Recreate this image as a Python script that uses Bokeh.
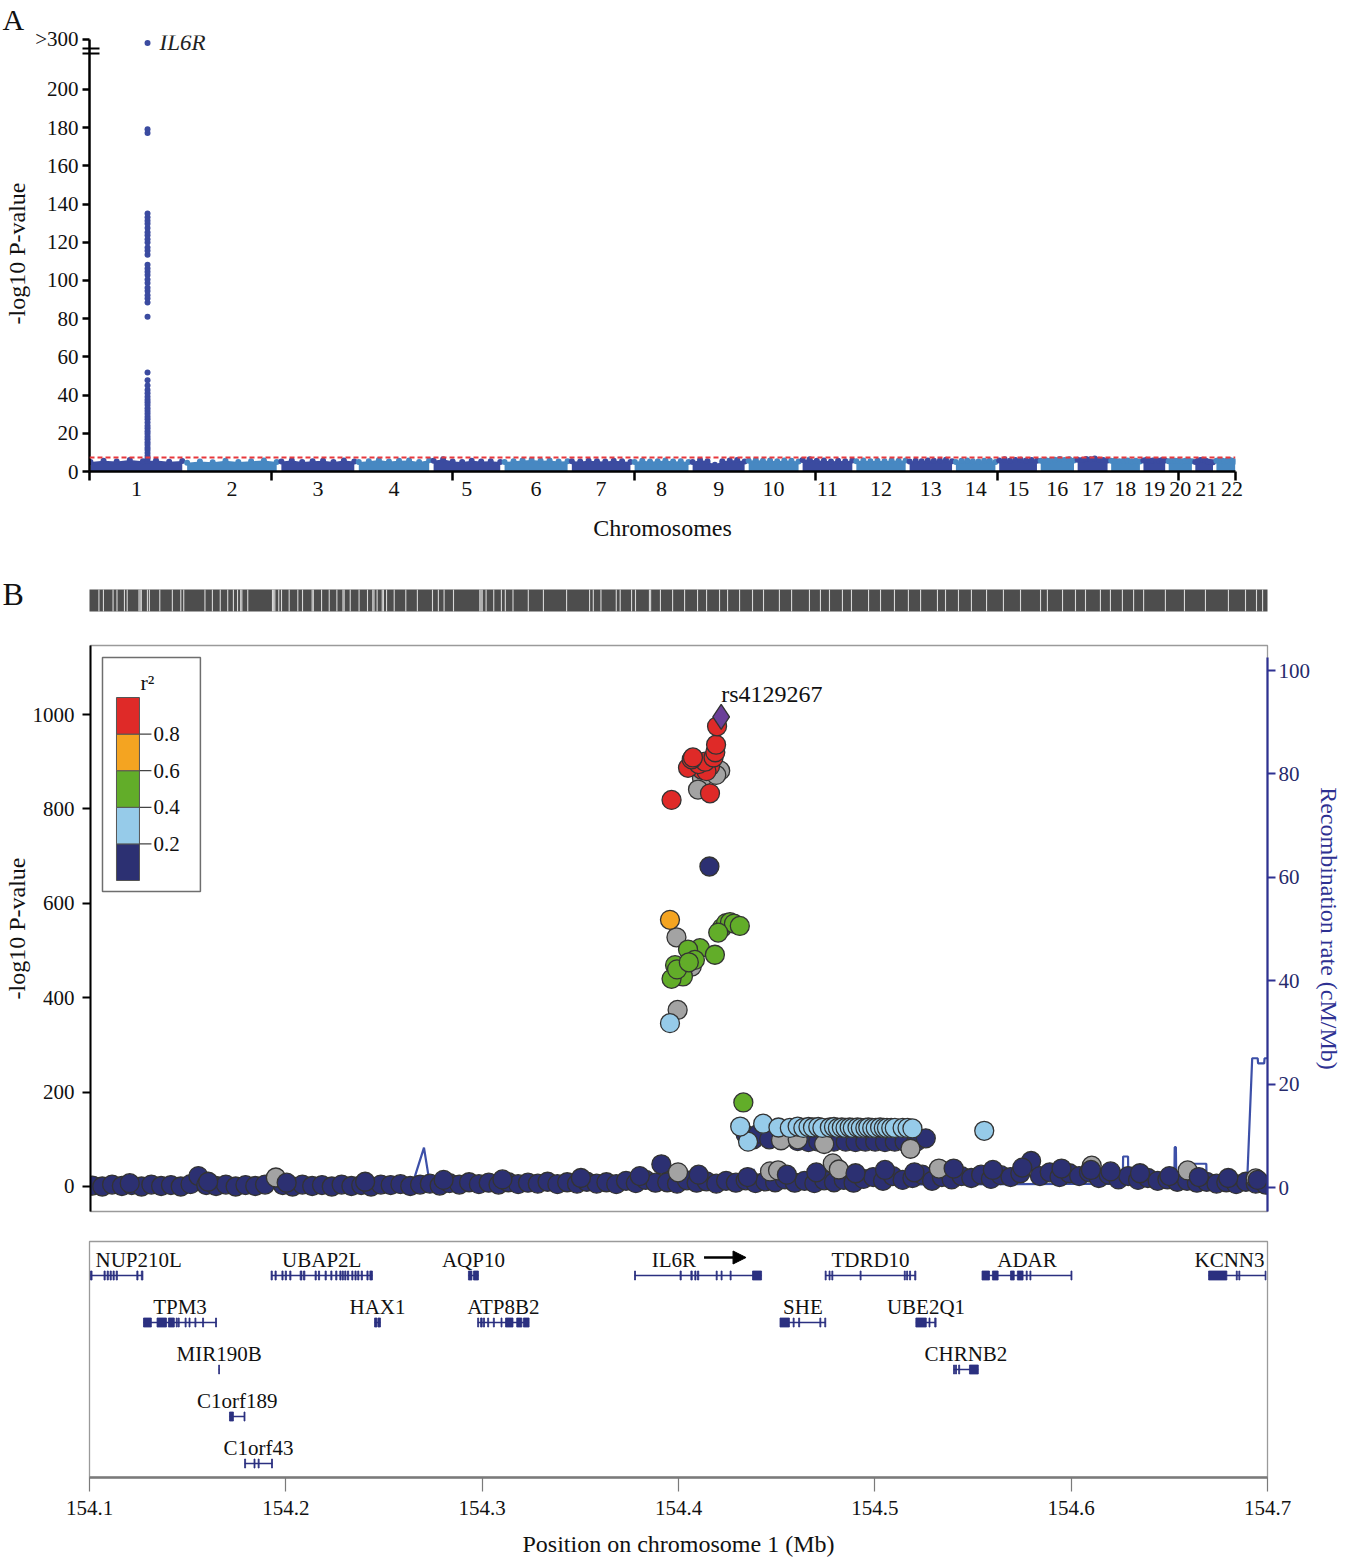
import math
from bokeh.plotting import figure
from bokeh.layouts import column
from bokeh.models import (Range1d, LinearAxis, FixedTicker, Label, Span, Arrow,
                          NormalHead, NumeralTickFormatter)
from bokeh.core.properties import value
from bokeh.embed import file_html
from bokeh.resources import INLINE

FONT = "Liberation Serif"

# ======================= DATA : panel A (genome-wide) =======================
chrom_labels = [str(i) for i in range(1, 23)]
chrom_length_mb = [249.3, 243.2, 198.0, 191.2, 180.9, 171.1, 159.1, 146.4, 141.2, 135.5, 135.0,
                   133.9, 115.2, 107.3, 102.5, 90.4, 81.2, 78.1, 59.1, 63.0, 48.1, 51.3]
chrom_gap_mb = 8.0
chrom_axis_tick_interval = 483.0
# upper envelope of the background -log10 P cloud, 8 readings along each chromosome
chrom_band_top = [
    [5.0, 5.6, 5.2, 6.0, 5.4, 5.8, 5.1, 5.5], [4.6, 5.2, 4.8, 5.6, 5.0, 5.4, 5.8, 5.0],
    [5.2, 5.8, 5.0, 5.4, 5.6, 5.0, 5.8, 5.2], [5.0, 5.4, 6.0, 5.2, 5.6, 5.8, 5.0, 5.9],
    [5.6, 6.4, 5.2, 5.0, 5.6, 5.2, 5.4, 5.0], [5.0, 5.4, 5.8, 6.0, 5.6, 5.8, 5.2, 5.4],
    [5.4, 5.2, 5.6, 5.4, 5.2, 5.6, 5.4, 5.0], [5.0, 5.6, 5.2, 5.4, 5.8, 5.2, 5.4, 5.0],
    [5.0, 6.0, 5.4, 3.5, 5.4, 5.8, 6.0, 5.2], [5.6, 6.0, 5.6, 5.8, 5.4, 5.8, 5.6, 5.2],
    [6.0, 6.4, 5.6, 5.8, 5.2, 5.6, 5.4, 5.8], [5.4, 5.8, 5.4, 5.6, 5.4, 5.8, 5.6, 5.8],
    [5.2, 5.6, 5.4, 5.8, 5.6, 5.8, 6.2, 5.4], [5.0, 5.6, 5.8, 5.4, 5.2, 5.6, 5.8, 5.0],
    [5.8, 6.4, 5.6, 6.0, 6.2, 5.8, 6.0, 5.6], [5.6, 6.0, 5.8, 6.2, 6.6, 6.0, 6.4, 5.8],
    [6.2, 6.0, 6.6, 6.4, 6.8, 6.2, 6.0, 5.8], [5.6, 5.8, 5.4, 5.6, 5.8, 5.4, 5.6, 5.2],
    [5.8, 6.2, 5.6, 5.8, 6.0, 5.6, 6.0, 5.8], [5.4, 5.8, 5.6, 5.8, 5.4, 5.6, 5.8, 5.4],
    [5.0, 5.6, 6.0, 6.2, 5.8, 5.2, 5.0, 4.8], [5.6, 6.0, 5.8, 5.4, 5.8, 6.0, 5.6, 5.2],
]
peak_chrom = "1"
peak_position_mb = 154.4
peak_gene = "IL6R"
peak_logp = [5.5, 6.8, 8.1, 9.7, 11.2, 12.4, 14.0, 15.3, 16.9, 18.2, 19.8, 21.1, 22.7, 24.0,
             25.6, 27.3, 28.7, 30.2, 31.6, 33.1, 34.8, 36.2, 37.5, 39.1, 40.9, 42.6, 45.0, 47.8,
             51.8, 81.0, 88.4, 90.6, 92.3, 94.5, 96.2, 98.7, 100.5, 102.9, 104.6, 106.3, 108.2,
             113.5, 115.6, 117.3, 119.8, 121.5, 123.6, 125.2, 127.4, 129.7, 131.3, 133.1, 135.0,
             177.2, 179.1, 320.0]
genome_wide_threshold = 7.3
a_y_ticks = [0, 20, 40, 60, 80, 100, 120, 140, 160, 180, 200]
a_break_label = ">300"

# ======================= DATA : panel B (regional) ==========================
region_start, region_end = 154.1, 154.7
b_y_ticks = [0, 200, 400, 600, 800, 1000]
rec_y_ticks = [0, 20, 40, 60, 80, 100]
region_x_ticks = [154.1, 154.2, 154.3, 154.4, 154.5, 154.6, 154.7]

# gaps in the SNP-density rug above the plot (Mb)
rug_gap_mb = [154.1048, 154.1071, 154.1120, 154.1140, 154.1178, 154.1192, 154.1252, 154.1258,
              154.1264, 154.1295, 154.1305, 154.1358, 154.1422, 154.1465, 154.1480, 154.1588,
              154.1626, 154.1666, 154.1704, 154.1733, 154.1754, 154.1770, 154.1776, 154.1806,
              154.1932, 154.1938, 154.1944, 154.1964, 154.1978, 154.2017, 154.2061, 154.2085,
              154.2134, 154.2140, 154.2182, 154.2221, 154.2260, 154.2291, 154.2297, 154.2328,
              154.2373, 154.2416, 154.2443, 154.2449, 154.2465, 154.2491, 154.2497, 154.2513,
              154.2552, 154.2611, 154.2670, 154.2747, 154.2777, 154.2806, 154.2854, 154.2988,
              154.2994, 154.3000, 154.3020, 154.3059, 154.3098, 154.3118, 154.3157, 154.3235,
              154.3312, 154.3430, 154.3547, 154.3566, 154.3605, 154.3683, 154.3703, 154.3761,
              154.3781, 154.3852, 154.3858, 154.3908, 154.3970, 154.4031, 154.4097, 154.4143,
              154.4209, 154.4250, 154.4311, 154.4377, 154.4433, 154.4514, 154.4576, 154.4667,
              154.4723, 154.4769, 154.4835, 154.4881, 154.4968, 154.5029, 154.5100, 154.5171,
              154.5233, 154.5319, 154.5360, 154.5426, 154.5492, 154.5569, 154.5655, 154.5742,
              154.5844, 154.5879, 154.5956, 154.6022, 154.6073, 154.6149, 154.6200, 154.6261,
              154.6318, 154.6369, 154.6480, 154.6577, 154.6684, 154.6801, 154.6888, 154.6944,
              154.6975]

# recombination rate (cM/Mb)
rec_pos = [154.100, 154.180, 154.2640, 154.2700, 154.2730, 154.3400, 154.4370, 154.4380,
           154.4390, 154.5200, 154.6000, 154.6262, 154.6264, 154.6289, 154.6291, 154.6525,
           154.6527, 154.6533, 154.6535, 154.6622, 154.6624, 154.6688, 154.6690, 154.6896,
           154.6922, 154.6950, 154.6952, 154.6983, 154.6985, 154.7000]
rec_rate = [0.3, 0.4, 0.5, 7.7, 0.6, 0.5, 0.6, 3.6, 0.6, 0.6, 0.7, 0.7, 6.0, 6.0, 0.8, 0.8,
            7.8, 7.8, 0.8, 0.8, 4.6, 4.6, 0.8, 0.9, 25.0, 25.0, 24.0, 24.0, 25.0, 25.0]

# background SNPs (r2 < 0.2)
bg_pos = [154.101, 154.106, 154.111, 154.116, 154.121, 154.126, 154.131, 154.136, 154.141, 154.146,
          154.151, 154.155, 154.159, 154.164, 154.169, 154.174, 154.179, 154.184, 154.189, 154.198,
          154.203, 154.208, 154.213, 154.218, 154.223, 154.228, 154.233, 154.238, 154.243, 154.248,
          154.253, 154.258, 154.263, 154.268, 154.273, 154.278, 154.283, 154.288, 154.293, 154.298,
          154.303, 154.308, 154.313, 154.318, 154.323, 154.328, 154.333, 154.338, 154.343, 154.348,
          154.353, 154.358, 154.363, 154.368, 154.373, 154.378, 154.383, 154.388, 154.391, 154.394,
          154.399, 154.404, 154.409, 154.414, 154.419, 154.424, 154.429, 154.434, 154.439, 154.444,
          154.449, 154.454, 154.459, 154.464, 154.469, 154.474, 154.479, 154.484, 154.489, 154.494,
          154.499, 154.504, 154.509, 154.514, 154.519, 154.524, 154.529, 154.534, 154.539, 154.544,
          154.549, 154.554, 154.559, 154.564, 154.569, 154.574, 154.5795, 154.584, 154.589, 154.594,
          154.599, 154.604, 154.609, 154.614, 154.619, 154.624, 154.629, 154.634, 154.639, 154.644,
          154.649, 154.654, 154.659, 154.664, 154.669, 154.674, 154.679, 154.684, 154.689, 154.694,
          154.699]
bg_logp = [2, 0, 4, 1, 3, 0, 4, 1, 3, 0,
           5, 22, 3, 1, 4, 0, 3, 1, 4, 3,
           0, 4, 1, 3, 0, 4, 1, 3, 0, 4,
           3, 5, 1, 4, 6, 2, 7, 4, 9, 5,
           8, 4, 9, 5, 8, 6, 10, 5, 9, 6,
           10, 6, 9, 5, 12, 7, 14, 8, 47, 9,
           6, 13, 8, 11, 6, 12, 8, 13, 7, 11,
           9, 15, 8, 12, 7, 13, 9, 14, 8, 16,
           20, 12, 22, 14, 18, 25, 12, 20, 15, 22,
           18, 25, 16, 24, 20, 28, 54, 22, 30, 20,
           28, 22, 30, 18, 25, 15, 22, 14, 18, 12,
           15, 10, 12, 8, 10, 6, 9, 5, 10, 6,
           4]
bg2_pos = [154.120, 154.160, 154.200, 154.240, 154.280, 154.310, 154.350, 154.380, 154.410,
           154.435, 154.455, 154.470, 154.490, 154.505, 154.520, 154.540, 154.560, 154.575,
           154.595, 154.610, 154.620, 154.635, 154.650, 154.665, 154.680, 154.695]
bg2_logp = [7, 10, 8, 10, 14, 15, 18, 22, 25, 20, 25, 30, 28, 35, 30, 38, 35, 40, 38, 35, 32,
            28, 22, 20, 18, 14]
# SNPs without LD information (grey)
nold_pos = [154.1945, 154.3995, 154.4464, 154.4505, 154.4784, 154.4815, 154.5325, 154.6104,
            154.6593, 154.6940]
nold_logp = [19, 30, 32, 34, 49, 36, 38, 44, 34, 17]

# SNPs with LD to the lead SNP, grouped by colour class (None = no r2 -> grey)
mid_navy_pos = [154.4340, 154.4380, 154.4405, 154.4460, 154.4605, 154.4660, 154.4710, 154.4790,
                154.4850, 154.4900, 154.4950, 154.5000, 154.5050, 154.5100, 154.5150, 154.5210,
                154.5258]
mid_navy_logp = [110, 100, 112, 100, 96, 94, 95, 95, 95, 94, 95, 95, 94, 95, 95, 95, 102]
mid_navy_r2 = [0.12, 0.1, 0.15, 0.1, 0.12, 0.1, 0.1, 0.12, 0.1, 0.1, 0.12, 0.1, 0.1, 0.12, 0.1,
               0.1, 0.15]
mid_grey_pos = [154.4520, 154.4605, 154.4740, 154.5180]
mid_grey_logp = [98, 100, 90, 80]
mid_lblue_pos = [154.4352, 154.4312, 154.4429, 154.4507, 154.4565, 154.4605, 154.4634, 154.4660,
                 154.4683, 154.4710, 154.4731, 154.4769, 154.4790, 154.4810, 154.4830, 154.4849,
                 154.4870, 154.4886, 154.4910, 154.4927, 154.4950, 154.4965, 154.4985, 154.5003,
                 154.5025, 154.5044, 154.5060, 154.5082, 154.5100, 154.5140, 154.5165, 154.5190,
                 154.5556]
mid_lblue_logp = [95, 127, 133, 125, 124, 127, 124, 126, 125, 126, 124, 125, 126, 124, 125, 124,
                  125, 124, 125, 124, 124, 125, 124, 124, 125, 124, 124, 124, 124, 124, 124, 123,
                  118]
mid_lblue_r2 = [0.3] * len(mid_lblue_pos)
top_grey_pos = [154.4210, 154.4117, 154.4097, 154.4190, 154.3987, 154.4065, 154.3993]
top_grey_logp = [881, 865, 841, 872, 528, 466, 374]
top_pos = [154.4328, 154.4155, 154.3954,
           154.4219, 154.4240, 154.4260, 154.4280, 154.4310, 154.4200, 154.4107, 154.4046,
           154.4183, 154.4081, 154.3980, 154.4020, 154.3962, 154.3990, 154.4050,
           154.3954,
           154.3962, 154.4158, 154.4117, 154.4046, 154.4158, 154.4140, 154.4100, 154.4133,
           154.4065, 154.4071, 154.4176, 154.4185, 154.4189, 154.4194]
top_logp = [178, 678, 346,
            548, 558, 560, 557, 552, 538, 505, 502, 491, 480, 469, 445, 440, 460, 475,
            565,
            819, 833, 883, 887, 890, 880, 895, 900, 905, 909, 909, 920, 936, 975]
top_r2 = [0.5, 0.1, 0.3,
          0.55, 0.5, 0.5, 0.5, 0.45, 0.5, 0.45, 0.45, 0.5, 0.45, 0.45, 0.42, 0.42, 0.45, 0.45,
          0.7,
          0.82, 0.85, 0.88, 0.88, 0.9, 0.88, 0.9, 0.9, 0.9, 0.9, 0.9, 0.92, 0.95, 0.97]
lead_pos, lead_logp, lead_name = 154.4215, 995, "rs4129267"

r2_breaks = [0.2, 0.4, 0.6, 0.8]
r2_colors = ["#2c3072", "#96cbe9", "#62ad29", "#f4a421", "#df2a28"]   # low -> high
nold_color = "#a3a3a3"
lead_color = "#6b3f98"

gene_name = ["NUP210L", "UBAP2L", "AQP10", "IL6R", "TDRD10", "ADAR", "KCNN3",
             "TPM3", "HAX1", "ATP8B2", "SHE", "UBE2Q1", "MIR190B", "CHRNB2", "C1orf189", "C1orf43"]
gene_row = [1, 1, 1, 1, 1, 1, 1, 2, 2, 2, 2, 2, 3, 3, 4, 5]
gene_start = [154.1005, 154.1925, 154.2930, 154.3776, 154.4747, 154.5546, 154.6700, 154.1275,
              154.2452, 154.2977, 154.4517, 154.5209, 154.1658, 154.5401, 154.1713, 154.1790]
gene_end = [154.1272, 154.2441, 154.2981, 154.4423, 154.5209, 154.6004, 154.6992, 154.1647,
            154.2482, 154.3239, 154.4750, 154.5312, 154.1662, 154.5527, 154.1792, 154.1932]
gene_exons = [
    [(154.1005, 154.1013), (154.1074, 154.1080), (154.1090, 154.1096), (154.1105, 154.1111),
     (154.1120, 154.1126), (154.1136, 154.1142), (154.1241, 154.1247), (154.1264, 154.1272)],
    [(154.1925, 154.1931), (154.1945, 154.1951), (154.1980, 154.1986), (154.1997, 154.2003),
     (154.2020, 154.2026), (154.2073, 154.2082), (154.2090, 154.2097), (154.2149, 154.2155),
     (154.2166, 154.2172), (154.2200, 154.2206), (154.2229, 154.2235), (154.2254, 154.2260),
     (154.2275, 154.2281), (154.2287, 154.2293), (154.2300, 154.2306), (154.2314, 154.2320),
     (154.2336, 154.2342), (154.2352, 154.2358), (154.2366, 154.2372), (154.2384, 154.2390),
     (154.2413, 154.2419), (154.2428, 154.2441)],
    [(154.2930, 154.2948), (154.2956, 154.2981)],
    [(154.3776, 154.3781), (154.4008, 154.4014), (154.4063, 154.4070), (154.4083, 154.4089),
     (154.4097, 154.4103), (154.4192, 154.4197), (154.4217, 154.4222), (154.4263, 154.4268),
     (154.4377, 154.4423)],
    [(154.4747, 154.4752), (154.4767, 154.4772), (154.4781, 154.4786), (154.4925, 154.4930),
     (154.5150, 154.5155), (154.5162, 154.5167), (154.5177, 154.5182), (154.5203, 154.5209)],
    [(154.5546, 154.5584), (154.5599, 154.5628), (154.5691, 154.5710), (154.5726, 154.5755),
     (154.5771, 154.5776), (154.5790, 154.5795), (154.5999, 154.6004)],
    [(154.6700, 154.6793), (154.6841, 154.6846), (154.6854, 154.6859), (154.6988, 154.6992)],
    [(154.1275, 154.1315), (154.1344, 154.1392), (154.1402, 154.1432), (154.1442, 154.1447),
     (154.1452, 154.1457), (154.1487, 154.1492), (154.1507, 154.1512), (154.1537, 154.1542),
     (154.1576, 154.1581), (154.1642, 154.1647)],
    [(154.2452, 154.2464), (154.2469, 154.2482)],
    [(154.2977, 154.2982), (154.2992, 154.3000), (154.3006, 154.3012), (154.3028, 154.3033),
     (154.3057, 154.3062), (154.3096, 154.3101), (154.3119, 154.3157), (154.3176, 154.3202),
     (154.3210, 154.3239)],
    [(154.4517, 154.4565), (154.4584, 154.4589), (154.4612, 154.4617), (154.4720, 154.4725),
     (154.4745, 154.4750)],
    [(154.5209, 154.5262), (154.5276, 154.5281), (154.5305, 154.5312)],
    [(154.1658, 154.1662)],
    [(154.5401, 154.5406), (154.5411, 154.5416), (154.5427, 154.5432), (154.5482, 154.5527)],
    [(154.1713, 154.1733), (154.1787, 154.1792)],
    [(154.1790, 154.1795), (154.1838, 154.1843), (154.1859, 154.1864), (154.1927, 154.1932)],
]
highlight_gene = "IL6R"

# ======================= LAYOUT (page pixels) ===============================
W = 1345
DARK_BLUE, LIGHT_BLUE = "#3b4ba0", "#4788c2"
NAVY = "#2b3080"
REC_LINE = "#3d50a8"
REC_AXIS = "#2e3192"
TXT = "#111111"


def base_fig(h, xr, yr, left, right, top, bottom, **kw):
    p = figure(width=W, height=h, x_range=xr, y_range=yr, output_backend="svg",
               toolbar_location=None, min_border_left=left, min_border_right=right,
               min_border_top=top, min_border_bottom=bottom, frame_align=False, **kw)
    p.outline_line_color = None
    p.background_fill_color = "white"
    p.border_fill_color = "white"
    for g in p.grid:
        g.visible = False
    return p


def style_axis(ax, size="21px"):
    ax.major_label_text_font = FONT
    ax.major_label_text_font_size = size
    ax.major_label_text_color = TXT
    ax.axis_label_text_font = FONT
    ax.axis_label_text_font_size = "24px"
    ax.axis_label_text_font_style = "normal"
    ax.axis_label_text_color = TXT
    ax.minor_tick_out = 0
    ax.minor_tick_in = 0
    ax.major_tick_in = 0


# ---------------- panel A ----------------
A_H = 548
A_L, A_R, A_T, A_B = 89, 1235, 34, 471
A_PX_PER_UNIT = 1.915
A_YTOP = (A_B - A_T) / A_PX_PER_UNIT
offsets = []
acc = 0.0
for L in chrom_length_mb:
    offsets.append(acc)
    acc += L + chrom_gap_mb
genome_span = acc - chrom_gap_mb


def a_x(px):
    return (px - A_L) / (A_R - A_L) * genome_span


def a_y(py):
    return (A_B - py) / A_PX_PER_UNIT


figA = base_fig(A_H, Range1d(0, genome_span), Range1d(0, A_YTOP), A_L, W - A_R, A_T, A_H - A_B,
                title="A")
figA.title.align = "left"
figA.title.offset = -(A_L - 2)
figA.title.standoff = 0
figA.title.text_font = FONT
figA.title.text_font_size = "30px"
figA.title.text_font_style = "normal"
figA.title.text_color = TXT

for i, tops in enumerate(chrom_band_top):
    n = len(tops)
    L = chrom_length_mb[i]
    xs = [offsets[i] + L * (0.01 + 0.98 * k / (n - 1)) for k in range(n)]
    col = DARK_BLUE if i % 2 == 0 else LIGHT_BLUE
    figA.varea(x=xs, y1=[0] * n, y2=tops, fill_color=col)
    figA.scatter(x=xs, y=tops, size=6, marker="circle", fill_color=col, line_color=None)

pk_index = chrom_labels.index(peak_chrom)
pk_x = [offsets[pk_index] + peak_position_mb] * len(peak_logp)
break_display = a_y(41.5)
pk_y = [v if v <= a_y_ticks[-1] else break_display for v in peak_logp]
figA.scatter(x=pk_x, y=pk_y, size=6, marker="circle", fill_color=DARK_BLUE, line_color=None)
figA.add_layout(Span(location=genome_wide_threshold, dimension="width", line_color="#e8383d",
                     line_dash="5 3", line_width=2))
figA.add_layout(Label(x=pk_x[0] + a_x(101) - a_x(89), y=pk_y[-1], text=peak_gene,
                      text_font=FONT, text_font_size="23px", text_font_style="italic",
                      text_align="left", text_baseline="middle", text_color="#222"))

ax_y = figA.yaxis[0]
style_axis(ax_y)
top_tick = a_y(38)
ax_y.ticker = FixedTicker(ticks=a_y_ticks + [top_tick], minor_ticks=[a_y(47), a_y(52)])
ax_y.major_label_overrides = {top_tick: a_break_label}
ax_y.bounds = (0, top_tick)
ax_y.axis_line_width = 2.5
ax_y.major_tick_line_width = 2.5
ax_y.major_tick_out = 7
ax_y.minor_tick_out = 7
ax_y.minor_tick_in = 10
ax_y.minor_tick_line_width = 2.2
ax_y.minor_tick_line_color = "black"
ax_y.major_label_standoff = 4
ax_y.axis_label = "-log10 P-value"
ax_y.axis_label_standoff = 2

centers = [offsets[i] + chrom_length_mb[i] / 2 for i in range(len(chrom_labels))]
min_label_gap = 26 * genome_span / (A_R - A_L)
label_pos = []
for c in centers:
    p_ = c if not label_pos else max(c, label_pos[-1] + min_label_gap)
    label_pos.append(int(round(p_)))
minor = [k * chrom_axis_tick_interval for k in range(int(genome_span // chrom_axis_tick_interval) + 1)]
minor.append(genome_span)
ax_x = figA.xaxis[0]
style_axis(ax_x, "22px")
ax_x.ticker = FixedTicker(ticks=label_pos, minor_ticks=minor)
ax_x.major_label_overrides = {c: lab for c, lab in zip(label_pos, chrom_labels)}
ax_x.major_tick_out = 0
ax_x.minor_tick_out = 9
ax_x.minor_tick_line_width = 2.5
ax_x.minor_tick_line_color = "black"
ax_x.axis_line_width = 2.5
ax_x.major_label_standoff = 1
ax_x.axis_label = "Chromosomes"
ax_x.axis_label_standoff = 16

# ---------------- shared x for panel B ----------------
B_L, B_R = 89, 1267
MB_PER_PX = (region_end - region_start) / (B_R - B_L)
xrB = Range1d(region_start, region_end)


def b_x(px):
    return region_start + (px - B_L) * MB_PER_PX


# ---------------- density rug (frame covers the whole strip) ----------------
D_TOP_PAGE, D_H, D_T, D_B = 548, 80, 589, 611


def d_y(py):
    return (D_B - py) / (D_B - D_T)


figD = base_fig(D_H, Range1d(b_x(0), b_x(W)), Range1d(d_y(D_TOP_PAGE + D_H), d_y(D_TOP_PAGE)),
                0, 0, 0, 0, x_axis_location=None, y_axis_location=None)
figD.quad(left=[region_start], right=[region_end], bottom=[0], top=[1], fill_color="#4d4d4d",
          line_color=None)
figD.vbar(x=rug_gap_mb, width=MB_PER_PX * 1.1, bottom=0, top=1, fill_color="#d8d8d8",
          line_color=None)
figD.text(x=[b_x(2)], y=[d_y(593)], text=["B"], text_font=value(FONT),
          text_font_size=value("32px"), text_align="left", text_baseline="middle",
          text_color=TXT)

# ---------------- regional association plot ----------------
B_TOP_PAGE, B_H, B_T, B_B = 628, 600, 645, 1211
B_Y0, B_Y1 = -53.0, 1146.2
REC0, REC1 = -4.64, 104.84
B_UNIT = (B_Y1 - B_Y0) / (B_B - B_T)


def b_y(py):
    return B_Y0 + (B_B - py) * B_UNIT


figB = base_fig(B_H, xrB, Range1d(B_Y0, B_Y1), B_L, W - B_R, B_T - B_TOP_PAGE,
                B_TOP_PAGE + B_H - B_B, x_axis_location=None, y_axis_location="left")
figB.outline_line_color = "#9a9a9a"
figB.outline_line_width = 1.3
lax = figB.yaxis[0]
style_axis(lax)
lax.ticker = FixedTicker(ticks=b_y_ticks)
lax.axis_line_width = 2
lax.major_tick_line_width = 2
lax.major_tick_out = 8
lax.major_label_standoff = 8
lax.axis_label = "-log10 P-value"
lax.axis_label_standoff = 0

figB.extra_y_ranges = {"rec": Range1d(REC0, REC1)}
rax = LinearAxis(y_range_name="rec", ticker=FixedTicker(ticks=rec_y_ticks), bounds=(REC0, 102.5))
style_axis(rax)
rax.axis_line_color = REC_AXIS
rax.axis_line_width = 2.2
rax.major_tick_line_color = REC_AXIS
rax.major_tick_line_width = 2
rax.major_tick_out = 8
rax.major_label_text_color = "#262a6b"
rax.major_label_standoff = 3
rax.axis_label = "Recombination rate (cM/Mb)"
rax.axis_label_text_color = REC_AXIS
rax.axis_label_standoff = 3
figB.add_layout(rax, "right")

figB.line(x=rec_pos, y=rec_rate, y_range_name="rec", line_color=REC_LINE, line_width=2.2)


def r2_color(r):
    if r is None:
        return nold_color
    for thr, col in zip(r2_breaks, r2_colors):
        if r < thr:
            return col
    return r2_colors[-1]


SNP = dict(size=19, marker="circle", line_color="#333333", line_width=1.3)
figB.scatter(x=bg_pos, y=bg_logp, fill_color=r2_colors[0], **SNP)
figB.scatter(x=nold_pos, y=nold_logp, fill_color=nold_color, **SNP)
figB.scatter(x=bg2_pos, y=bg2_logp, fill_color=r2_colors[0], **SNP)
figB.scatter(x=mid_navy_pos, y=mid_navy_logp, fill_color=[r2_color(r) for r in mid_navy_r2], **SNP)
figB.scatter(x=mid_grey_pos, y=mid_grey_logp, fill_color=nold_color, **SNP)
figB.scatter(x=mid_lblue_pos, y=mid_lblue_logp, fill_color=[r2_color(r) for r in mid_lblue_r2], **SNP)
figB.scatter(x=top_grey_pos, y=top_grey_logp, fill_color=nold_color, **SNP)
figB.scatter(x=top_pos, y=top_logp, fill_color=[r2_color(r) for r in top_r2], **SNP)
figB.scatter(x=[lead_pos], y=[lead_logp], size=25, marker="diamond", fill_color=lead_color,
             line_color="#333333", line_width=1.3)
figB.text(x=[lead_pos], y=[lead_logp + 23 * B_UNIT], text=[lead_name],
          text_font=value(FONT), text_font_size=value("24px"), text_align="left",
          text_baseline="alphabetic", text_color=TXT)

# legend (r2 colour key)
figB.quad(left=[b_x(101)], right=[b_x(199)], top=[b_y(657)], bottom=[b_y(891)],
          fill_color="white", line_color="#6e6e6e", line_width=1.5)
blk_top, blk_bot = 697, 880
blk_h = (blk_bot - blk_top) / len(r2_colors)
nb = len(r2_colors)
figB.quad(left=[b_x(115)] * nb, right=[b_x(138)] * nb,
          bottom=[b_y(blk_bot - k * blk_h) for k in range(nb)],
          top=[b_y(blk_bot - (k + 1) * blk_h) for k in range(nb)],
          fill_color=r2_colors, line_color="#555555", line_width=1)
tick_py = [blk_bot - (k + 1) * blk_h for k in range(len(r2_breaks))]
figB.segment(x0=[b_x(138)] * len(tick_py), x1=[b_x(150)] * len(tick_py),
             y0=[b_y(t) for t in tick_py], y1=[b_y(t) for t in tick_py],
             line_color="#444444", line_width=1.3)
figB.text(x=[b_x(152)] * len(tick_py), y=[b_y(t) for t in tick_py],
          text=[str(b) for b in r2_breaks], text_font=value(FONT), text_font_size=value("21px"),
          text_align="left", text_baseline="middle", text_color=TXT)
figB.text(x=[b_x(146)], y=[b_y(682)], text=["r\u00b2"], text_font=value(FONT),
          text_font_size=value("22px"), text_align="center", text_baseline="middle",
          text_color=TXT)

# ---------------- gene track ----------------
G_TOP_PAGE, G_H, G_T, G_B = 1228, 331, 1241, 1477
ROW1_PY, ROW_PX = 1275, 47


def g_y(py):
    return 1 + (py - ROW1_PY) / ROW_PX


figG = base_fig(G_H, xrB, Range1d(g_y(G_B), g_y(G_T)), B_L, W - B_R, G_T - G_TOP_PAGE,
                G_TOP_PAGE + G_H - G_B, x_axis_location="below", y_axis_location=None)
figG.outline_line_color = "#9a9a9a"
figG.outline_line_width = 1.3

figG.segment(x0=gene_start, x1=gene_end, y0=gene_row, y1=gene_row, line_color=NAVY,
             line_width=1.5)
ex_l, ex_r, ex_b, ex_t = [], [], [], []
half = 4.5 / ROW_PX
for exons, row in zip(gene_exons, gene_row):
    for s, e in exons:
        ex_l.append(s)
        ex_r.append(e)
        ex_b.append(row + half)
        ex_t.append(row - half)
figG.quad(left=ex_l, right=ex_r, bottom=ex_b, top=ex_t, fill_color=NAVY, line_color=NAVY,
          line_width=0.8)

lab = {"left": ([], [], []), "center": ([], [], []), "right": ([], [], [])}
for name, s, e, row in zip(gene_name, gene_start, gene_end, gene_row):
    c = (s + e) / 2
    cpx = (c - region_start) / MB_PER_PX + B_L
    hw = len(name) * 6.8
    ly = row - 16 / ROW_PX
    if name == highlight_gene:
        key, lx = "right", c - 2 * MB_PER_PX
        figG.add_layout(Arrow(end=NormalHead(size=13, fill_color="black", line_color="black"),
                              x_start=c + 6 * MB_PER_PX, x_end=c + 48 * MB_PER_PX,
                              y_start=row - 18 / ROW_PX, y_end=row - 18 / ROW_PX,
                              line_color="black", line_width=2.5))
    elif cpx - hw < B_L + 6:
        key, lx = "left", b_x(B_L + 6)
    elif cpx + hw > B_R - 3:
        key, lx = "right", b_x(B_R - 3)
    else:
        key, lx = "center", c
    lab[key][0].append(lx)
    lab[key][1].append(ly)
    lab[key][2].append(name)
for key, (xs, ys, ts) in lab.items():
    if xs:
        figG.text(x=xs, y=ys, text=ts, text_font=value(FONT), text_font_size=value("21px"),
                  text_align=key, text_baseline="middle", text_color=TXT)

gx = figG.xaxis[0]
style_axis(gx)
gx.ticker = FixedTicker(ticks=region_x_ticks)
gx.formatter = NumeralTickFormatter(format="0.0")
gx.axis_line_color = "#7a7a7a"
gx.axis_line_width = 2.5
gx.major_tick_line_color = "#7a7a7a"
gx.major_tick_line_width = 1.2
gx.major_tick_out = 14
gx.major_label_standoff = 9
gx.axis_label = "Position on chromosome 1 (Mb)"
gx.axis_label_standoff = 13

layout = column(figA, figD, figB, figG)
open("out.html", "w").write(file_html(layout, INLINE))
